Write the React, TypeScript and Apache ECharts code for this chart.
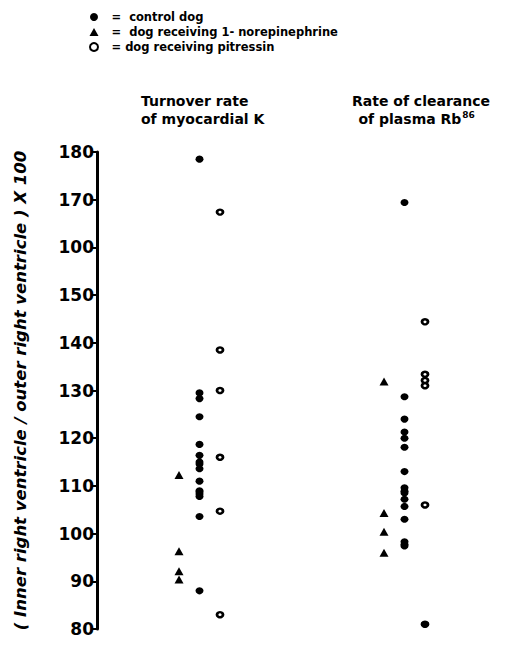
import React, { useEffect, useRef } from "react";
import * as echarts from "echarts";

// Column headers (two measurement groups)
const groupHeaders = ["Turnover rate\nof myocardial K", "Rate of clearance\n {sp| }of plasma Rb{sup|86}"];

// Series values (ratio x 100)
const controlTurnover = [178.5, 129.5, 128.3, 124.5, 118.7, 116.4, 115, 113.6, 114.6, 111, 109, 108.3, 108.7, 107.8, 103.6, 88];
const controlClearance = [169.4, 128.7, 124, 121.3, 120, 118.1, 113, 109.6, 108.9, 108.5, 107.2, 105.7, 103, 98.3, 97.7, 97.4];
const norepiTurnover = [112.3, 96.3, 92.1, 90.4];
const norepiClearance = [131.9, 104.3, 100.4, 96];
const pitressinTurnover = [167.4, 138.5, 130, 116, 104.7, 83];
const pitressinClearance = [144.4, 133.4, 132.1, 131, 106];
// one solid-looking mark in the pitressin column at the bottom of the clearance group
const pitressinClearanceSolid = [81];

// y axis tick labels (as printed, including the "100" at the 160 position)
const yTickLabels = ["80", "90", "100", "110", "120", "130", "140", "150", "100", "170", "180"];

const seriesNames = ["=  control dog", "=  dog receiving 1- norepinephrine", "= dog receiving pitressin"];

const FONT = "DejaVu Sans";

export default function App() {
  const ref = useRef<HTMLDivElement>(null);
  useEffect(() => {
    if (!ref.current) return;
    const chart = echarts.init(ref.current, undefined, { renderer: "svg" });
    const offT = -0.1, offC = 0, offP = 0.1;
    const pts = (vals: number[], gi: number, off: number) => vals.map((v) => [gi + 0.5 + off, v]);

    chart.setOption({
      animation: false,
      backgroundColor: "#ffffff",
      grid: { left: 97, right: 10, top: 152, bottom: 26, containLabel: false },
      legend: {
        orient: "vertical",
        left: 84,
        top: 6,
        itemWidth: 9,
        itemHeight: 8,
        itemGap: 3,
        textStyle: { fontFamily: FONT, fontWeight: "bold", fontSize: 11.5, color: "#000", padding: [0, 0, 0, 8] },
        data: seriesNames,
      },
      xAxis: {
        type: "value",
        min: 0,
        max: 2,
        show: false,
      },
      yAxis: {
        type: "value",
        min: 80,
        max: 180,
        interval: 10,
        name: "( Inner right ventricle / outer right ventricle ) X 100",
        nameLocation: "middle",
        nameRotate: 90,
        nameGap: 68,
        nameTextStyle: { fontFamily: FONT, fontWeight: "bold", fontStyle: "italic", fontSize: 16.5, color: "#000" },
        axisLine: { show: true, lineStyle: { color: "#000", width: 3 } },
        axisTick: { show: true, length: 5, lineStyle: { color: "#000", width: 2 } },
        axisLabel: {
          margin: 3,
          fontFamily: FONT,
          fontWeight: "bold",
          fontSize: 17,
          color: "#000",
          formatter: (v: number) => yTickLabels[Math.round((v - 80) / 10)],
        },
        splitLine: { show: false },
      },
      graphic: [
        {
          type: "text",
          left: 141,
          top: 92,
          style: {
            text: groupHeaders[0],
            font: `bold 14px "${FONT}"`,
            fill: "#000",
            lineHeight: 18,
          },
        },
        {
          type: "text",
          left: 352,
          top: 92,
          style: {
            text: groupHeaders[1],
            font: `bold 14px "${FONT}"`,
            fill: "#000",
            lineHeight: 18,
            rich: {
              sp: { fontSize: 5, fontFamily: FONT },
              sup: { fontSize: 9, fontWeight: "bold", fontFamily: FONT, verticalAlign: "top", padding: [0, 0, 8, 1] },
            },
          },
        },
      ],
      series: [
        {
          name: seriesNames[0],
          type: "scatter",
          symbol: "circle",
          symbolSize: [8, 7],
          itemStyle: { color: "#000", opacity: 1 },
          data: [...pts(controlTurnover, 0, offC), ...pts(controlClearance, 1, offC)],
        },
        {
          name: seriesNames[1],
          type: "scatter",
          symbol: "triangle",
          symbolSize: [9, 8],
          itemStyle: { color: "#000", opacity: 1 },
          data: [...pts(norepiTurnover, 0, offT), ...pts(norepiClearance, 1, offT)],
        },
        {
          name: seriesNames[2],
          type: "scatter",
          symbol: "circle",
          symbolSize: [6, 5],
          itemStyle: { color: "#fff", borderColor: "#000", borderWidth: 2.6, opacity: 1 },
          data: [
            ...pts(pitressinTurnover, 0, offP),
            ...pts(pitressinClearance, 1, offP),
            ...pts(pitressinClearanceSolid, 1, offP).map((p) => ({ value: p, itemStyle: { color: "#000" } })),
          ],
        },
      ],
    });
    return () => chart.dispose();
  }, []);
  return <div ref={ref} style={{ position: "fixed", left: 0, top: 0, width: 517, height: 655 }} />;
}
